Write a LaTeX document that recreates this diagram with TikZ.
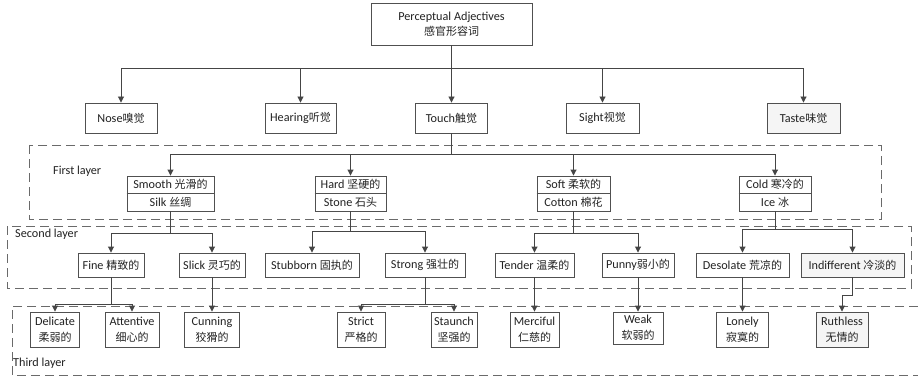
\documentclass[tikz,border=0pt]{standalone}
\usepackage{fontspec}
\setmainfont{Carlito}
\newfontfamily\cjk{Noto Sans CJK SC}
\usetikzlibrary{arrows.meta}
\definecolor{linec}{HTML}{454545}
\definecolor{boxc}{HTML}{505050}
\definecolor{txtc}{HTML}{222222}
\definecolor{dashc}{HTML}{6A6A6A}
\definecolor{shade}{HTML}{F5F5F5}
\newcommand\zh[1]{{\cjk\fontsize{11}{16}\selectfont #1}}
\tikzset{
  box/.style={draw=boxc, line width=0.9pt, inner sep=0pt, minimum height=30pt,
    font=\fontsize{12.2}{16}\selectfont, text=txtc, align=center},
  lbl/.style={inner sep=0pt, font=\fontsize{12.2}{16}\selectfont, text=txtc},
  ln/.style={draw=linec, line width=0.9pt},
  arr/.style={draw=linec, line width=0.9pt, -{Triangle[length=6pt,width=6pt]}},
  layer/.style={draw=dashc, line width=0.9pt, dash pattern=on 9pt off 5pt},
}
\newcommand\twobox[5]{%
  \node[box, minimum width=#3pt, minimum height=35pt] (#1) at (#2,193.5) {};
  \draw[draw=boxc, line width=0.9pt] (#1.west) -- (#1.east);
  \node[lbl] (#1a) at (#2,184.5) {#4};
  \node[lbl] (#1b) at (#2,202.5) {#5};
}
\begin{document}
\begin{tikzpicture}[x=1pt,y=-1pt]
\useasboundingbox (0,0) rectangle (918,377);
\fill[white] (0,0) rectangle (918,377);

% layer frames
\draw[layer] (29,145) rectangle (881,219);
\draw[layer] (7,226) rectangle (911,288);
\draw[layer] (918,306) -- (12,306) -- (12,375) -- (918,375);
\node[lbl, anchor=west] (L1) at (53,171) {First layer};
\node[lbl, anchor=west] (L2) at (15,234) {Second layer};
\node[lbl, anchor=west] (L3) at (13,363) {Third layer};

% root
\node[box, minimum width=161pt, minimum height=42pt] (top) at (451.5,24)
  {Perceptual Adjectives\\[-1pt]\zh{感官形容词}};

% senses
\node[box, minimum width=72pt] (nose) at (121,118) {Nose\zh{嗅觉}};
\node[box, minimum width=71pt] (hearing) at (300.5,118) {Hearing\zh{听觉}};
\node[box, minimum width=72pt] (touch) at (451.5,118) {Touch\zh{触觉}};
\node[box, minimum width=73pt] (sight) at (602.5,118) {Sight\zh{视觉}};
\node[box, minimum width=73pt, fill=shade] (taste) at (803.5,118) {Taste\zh{味觉}};

% first layer
\twobox{smooth}{170.5}{87}{Smooth \zh{光滑的}}{Silk \zh{丝绸}}
\twobox{hard}{350.5}{71}{Hard \zh{坚硬的}}{Stone \zh{石头}}
\twobox{soft}{573.5}{73}{Soft \zh{柔软的}}{Cotton \zh{棉花}}
\twobox{cold}{775}{72}{Cold \zh{寒冷的}}{Ice \zh{冰}}

% second layer
\node[box, minimum width=66pt, minimum height=24pt] (fine) at (111,265) {Fine \zh{精致的}};
\node[box, minimum width=66pt, minimum height=24pt] (slick) at (212,265) {Slick \zh{灵巧的}};
\node[box, minimum width=94pt, minimum height=24pt] (stubborn) at (312,265) {Stubborn \zh{固执的}};
\node[box, minimum width=80pt, minimum height=24pt] (strong) at (425,265) {Strong \zh{强壮的}};
\node[box, minimum width=79pt, minimum height=24pt] (tender) at (534.5,265) {Tender \zh{温柔的}};
\node[box, minimum width=72pt, minimum height=24pt] (punny) at (638,265) {Punny\zh{弱小的}};
\node[box, minimum width=93pt, minimum height=24pt] (desolate) at (742.5,265) {Desolate \zh{荒凉的}};
\node[box, minimum width=103pt, minimum height=24pt, fill=shade] (indifferent) at (852.5,265) {Indifferent \zh{冷淡的}};

% third layer
\node[box, minimum width=49pt, minimum height=35pt] (delicate) at (55,329.5) {Delicate\\\zh{柔弱的}};
\node[box, minimum width=54pt, minimum height=35pt] (attentive) at (132,329.5) {Attentive\\\zh{细心的}};
\node[box, minimum width=55pt, minimum height=35pt] (cunning) at (212,329.5) {Cunning\\\zh{狡猾的}};
\node[box, minimum width=48pt, minimum height=35pt] (strict) at (361,329.5) {Strict\\\zh{严格的}};
\node[box, minimum width=46pt, minimum height=35pt] (staunch) at (454,329.5) {Staunch\\\zh{坚强的}};
\node[box, minimum width=49pt, minimum height=35pt] (merciful) at (534.5,329.5) {Merciful\\\zh{仁慈的}};
\node[box, minimum width=50pt, minimum height=32pt] (weak) at (638,328) {Weak\\\zh{软弱的}};
\node[box, minimum width=52pt, minimum height=35pt] (lonely) at (742.5,329.5) {Lonely\\\zh{寂寞的}};
\node[box, minimum width=52pt, minimum height=35pt, fill=shade] (ruthless) at (842,329.5) {Ruthless\\\zh{无情的}};

% connectors: root -> senses
\coordinate (b0) at (451.5,68);
\draw[ln] (top.south) -- (b0);
\foreach \n in {nose,hearing,touch,sight,taste} \draw[arr] (b0) -| (\n.north);

% touch -> first layer
\coordinate (b1) at (451.5,154);
\draw[ln] (touch.south) -- (b1);
\foreach \n in {smooth,hard,soft,cold} \draw[arr] (b1) -| (\n.north);

% first -> second
\coordinate (b2) at (170.5,233);
\draw[ln] (smooth.south) -- (b2);
\foreach \n in {fine,slick} \draw[arr] (b2) -| (\n.north);
\coordinate (b3) at (350.5,231);
\draw[ln] (hard.south) -- (b3);
\foreach \n in {stubborn,strong} \draw[arr] (b3) -| (\n.north);
\coordinate (b4) at (573.5,233);
\draw[ln] (soft.south) -- (b4);
\foreach \n in {tender,punny} \draw[arr] (b4) -| (\n.north);
\coordinate (b5) at (775,229);
\draw[ln] (cold.south) -- (b5);
\foreach \n in {desolate,indifferent} \draw[arr] (b5) -| (\n.north);

% second -> third
\coordinate (b6) at (111,304);
\draw[ln] (fine.south) -- (b6);
\foreach \n in {delicate,attentive} \draw[arr] (b6) -| (\n.north);
\draw[arr] (slick.south) -- (cunning.north);
\coordinate (b7) at (425,304);
\draw[ln] (strong.south) -- (b7);
\foreach \n in {strict,staunch} \draw[arr] (b7) -| (\n.north);
\draw[arr] (tender.south) -- (merciful.north);
\draw[arr] (punny.south) -- (weak.north);
\draw[arr] (desolate.south) -- (lonely.north);
\coordinate (b8) at (852.5,295);
\draw[arr] (indifferent.south) -- (b8) -| (ruthless.north);
\end{tikzpicture}
\end{document}
